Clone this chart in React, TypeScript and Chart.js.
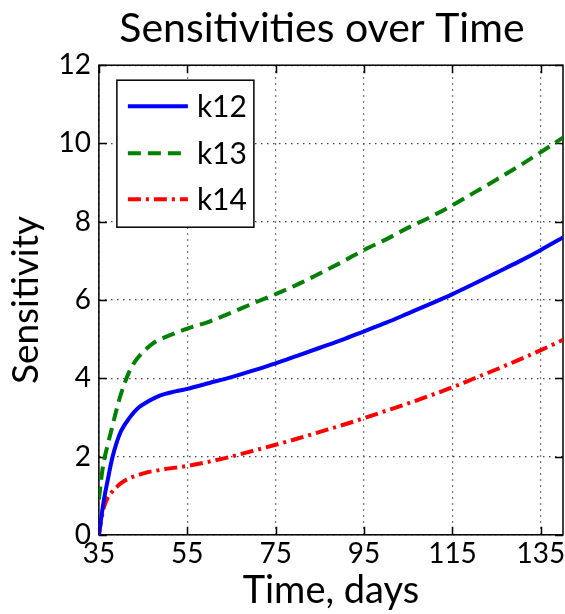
import React, { useEffect, useRef } from "react";
import { Chart, registerables } from "chart.js";

Chart.register(...registerables);

const days = [35, 35.5, 36, 37, 38, 39, 40, 42, 44, 46, 48, 50, 55, 60, 65, 70, 75, 80, 85, 90, 95, 100, 105, 110, 115, 120, 125, 130, 135, 140];
const k12 = [0, 0.4, 0.8, 1.4, 1.95, 2.35, 2.65, 3.0, 3.25, 3.4, 3.52, 3.6, 3.73, 3.88, 4.03, 4.2, 4.38, 4.58, 4.78, 4.98, 5.2, 5.42, 5.66, 5.9, 6.15, 6.42, 6.7, 6.98, 7.28, 7.6];
const k13 = [0.9, 1.4, 1.8, 2.3, 2.75, 3.2, 3.6, 4.2, 4.55, 4.78, 4.95, 5.05, 5.27, 5.45, 5.68, 5.92, 6.15, 6.4, 6.68, 6.97, 7.28, 7.55, 7.85, 8.12, 8.42, 8.75, 9.08, 9.42, 9.78, 10.15];
const k14 = [0, 0.35, 0.65, 0.95, 1.1, 1.22, 1.32, 1.45, 1.53, 1.6, 1.64, 1.68, 1.76, 1.87, 2.0, 2.15, 2.3, 2.46, 2.63, 2.8, 2.98, 3.17, 3.36, 3.56, 3.77, 4.0, 4.23, 4.47, 4.72, 4.98];
const xTicks = [35, 55, 75, 95, 115, 135];
const yTicks = [0, 2, 4, 6, 8, 10, 12];
const seriesLabels = ["k12", "k13", "k14"];

const FONT = "Lato";

const framePlugin = {
  id: "frame",
  afterLayout(chart: any) {
    const tb = chart.titleBlock;
    if (tb) tb.left -= 18;
  },
  beforeDatasetsDraw(chart: any) {
    const { ctx, chartArea: a, scales } = chart;
    ctx.save();
    ctx.strokeStyle = "#000";
    ctx.lineWidth = 1.5;
    const t = 8;
    ctx.beginPath();
    for (const v of xTicks) {
      const px = Math.round(scales.x.getPixelForValue(v)) + 0.5;
      ctx.moveTo(px, a.bottom);
      ctx.lineTo(px, a.bottom - t);
      ctx.moveTo(px, a.top);
      ctx.lineTo(px, a.top + t);
    }
    for (const v of yTicks) {
      const py = Math.round(scales.y.getPixelForValue(v)) + 0.5;
      ctx.moveTo(a.left, py);
      ctx.lineTo(a.left + t, py);
      ctx.moveTo(a.right, py);
      ctx.lineTo(a.right - t, py);
    }
    ctx.stroke();
    ctx.strokeRect(a.left, a.top, a.right - a.left, a.bottom - a.top);
    ctx.restore();
  },
  afterDatasetsDraw(chart: any) {
    const { ctx, chartArea: a } = chart;
    const bx = a.left + 18;
    const by = a.top + 15;
    const bw = 137;
    const bh = 147;
    ctx.save();
    ctx.fillStyle = "#fff";
    ctx.fillRect(bx, by, bw, bh);
    ctx.strokeStyle = "#000";
    ctx.lineWidth = 1.5;
    ctx.strokeRect(bx, by, bw, bh);
    const rows = [26, 73, 119];
    chart.data.datasets.forEach((ds: any, i: number) => {
      const y = by + rows[i];
      ctx.beginPath();
      ctx.strokeStyle = ds.borderColor;
      ctx.lineWidth = ds.borderWidth;
      ctx.setLineDash(ds.borderDash || []);
      ctx.moveTo(bx + 11, y);
      ctx.lineTo(bx + 71, y);
      ctx.stroke();
      ctx.setLineDash([]);
      ctx.fillStyle = "#000";
      ctx.font = `30px ${FONT}`;
      ctx.textBaseline = "middle";
      ctx.fillText(ds.label, bx + 80, y + 1);
    });
    ctx.restore();
  },
};

export default function App() {
  const ref = useRef<HTMLCanvasElement>(null);
  useEffect(() => {
    if (!ref.current) return;
    const mk = (vals: number[]) => days.map((d, i) => ({ x: d, y: vals[i] }));
    const chart = new Chart(ref.current, {
      type: "line",
      data: {
        datasets: [
          { label: seriesLabels[0], data: mk(k12), borderColor: "#0000ff", borderWidth: 4, pointRadius: 0, fill: false, cubicInterpolationMode: "monotone" },
          { label: seriesLabels[1], data: mk(k13), borderColor: "#008000", borderWidth: 4, borderDash: [13, 7], pointRadius: 0, fill: false, cubicInterpolationMode: "monotone" },
          { label: seriesLabels[2], data: mk(k14), borderColor: "#ff0000", borderWidth: 4, borderDash: [13, 5, 3, 5], pointRadius: 0, fill: false, cubicInterpolationMode: "monotone" },
        ] as any,
      },
      options: {
        responsive: false,
        animation: false,
        layout: { padding: { left: 4, right: 2, top: 0, bottom: 0 } },
        plugins: {
          legend: { display: false },
          tooltip: { enabled: false },
          title: {
            display: true,
            text: "Sensitivities over Time",
            color: "#000",
            font: { family: FONT, size: 41, weight: "normal" },
            padding: { top: 4, bottom: 12 },
            fullSize: false,
          },
        },
        scales: {
          x: {
            type: "linear",
            min: 35,
            max: 140,
            afterBuildTicks: (s: any) => { s.ticks = xTicks.map((v) => ({ value: v })); },
            afterFit: (s: any) => { s.paddingRight = 0; },
            ticks: { color: "#000", font: { family: FONT, size: 28 }, padding: 2, maxRotation: 0, autoSkip: false },
            grid: { color: "#444", lineWidth: 1.2, drawTicks: false } as any,
            border: { display: false, dash: [1.5, 4.5] } as any,
            title: { display: true, text: "Time, days", color: "#000", font: { family: FONT, size: 38 }, padding: { top: -4, bottom: 0 } },
          },
          y: {
            type: "linear",
            min: 0,
            max: 12,
            afterBuildTicks: (s: any) => { s.ticks = yTicks.map((v) => ({ value: v })); },
            ticks: { color: "#000", font: { family: FONT, size: 28 }, padding: 8, autoSkip: false },
            grid: { color: "#444", lineWidth: 1.2, drawTicks: false } as any,
            border: { display: false, dash: [1.5, 4.5] } as any,
            title: { display: true, text: "Sensitivity", color: "#000", font: { family: FONT, size: 37 }, padding: { top: 0, bottom: 2 } },
          },
        },
      } as any,
      plugins: [framePlugin],
    });
    return () => chart.destroy();
  }, []);
  return (
    <div style={{ position: "absolute", left: 0, top: 0, width: 565, height: 614, background: "#fff" }}>
      <canvas ref={ref} width={565} height={614} />
    </div>
  );
}
